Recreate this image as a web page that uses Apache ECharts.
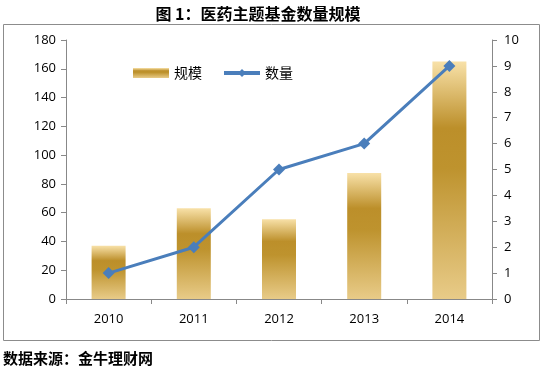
<!DOCTYPE html>
<html><head><meta charset="utf-8">
<script src="https://cdn.jsdelivr.net/npm/echarts@6/dist/echarts.min.js"></script>
<style>html,body{margin:0;padding:0;background:#fff}#c{width:543px;height:371px}</style>
</head><body><div id="c"></div>
<script>
const categories = ['2010','2011','2012','2013','2014'];
const scaleValues = [37, 63, 55.5, 87.5, 165];
const countValues = [1, 2, 5, 6, 9];
const leftTicks = [0,20,40,60,80,100,120,140,160,180];
const rightTicks = [0,1,2,3,4,5,6,7,8,9,10];

const chart = echarts.init(document.getElementById('c'), null, {renderer:'canvas'});
const gold = new echarts.graphic.LinearGradient(0,0,0,1,[
  {offset:0,color:'#F8E1A8'},
  {offset:0.28,color:'#BC8F2A'},
  {offset:0.45,color:'#BE932E'},
  {offset:1,color:'#E8CB88'}
]);
const axisFont = {color:'#000', fontSize:13, fontFamily:'Open Sans, sans-serif'};
chart.setOption({
  animation:false,
  title:{text:'图 1：医药主题基金数量规模', left:253, top:1, textAlign:'center',
    textStyle:{fontSize:16, fontWeight:'bold', color:'#000', fontFamily:'Noto Sans CJK SC'}},
  graphic:[
    {type:'rect', shape:{x:3.5,y:24.5,width:536,height:316}, style:{fill:'none', stroke:'#8c8c8c', lineWidth:1}, z:-1},
    {type:'text', left:3, top:351, style:{text:'数据来源：金牛理财网', fontSize:15, fontWeight:'bold', fill:'#000', fontFamily:'Noto Sans CJK SC'}}
  ],
  legend:{left:128, top:61, itemGap:20, itemWidth:36, itemHeight:10,
    textStyle:{fontSize:14, color:'#000', fontFamily:'Noto Sans CJK SC'},
    data:[{name:'规模', icon:'rect', itemStyle:{color:gold}},
          {name:'数量', lineStyle:{width:4, color:'#4A7EBB'}, itemStyle:{color:'#4A7EBB'}}]},
  grid:{left:66, right:51, top:40, bottom:72},
  xAxis:{type:'category', data:categories,
    axisLine:{lineStyle:{color:'#888'}}, axisTick:{show:true, length:5, lineStyle:{color:'#888'}},
    axisLabel:Object.assign({margin:14}, axisFont)},
  yAxis:[
    {type:'value', min:0, max:180, interval:20, position:'left',
     axisLine:{show:true, lineStyle:{color:'#888'}}, axisTick:{show:true, length:5, lineStyle:{color:'#888'}},
     splitLine:{show:false}, axisLabel:Object.assign({margin:10}, axisFont)},
    {type:'value', min:0, max:10, interval:1, position:'right',
     axisLine:{show:true, lineStyle:{color:'#888'}}, axisTick:{show:true, length:5, lineStyle:{color:'#888'}},
     splitLine:{show:false}, axisLabel:Object.assign({margin:12}, axisFont)}
  ],
  series:[
    {name:'规模', type:'bar', data:scaleValues, barWidth:34, itemStyle:{color:gold}},
    {name:'数量', type:'line', yAxisIndex:1, data:countValues, symbol:'diamond', symbolSize:12,
     lineStyle:{color:'#4A7EBB', width:3}, itemStyle:{color:'#4A7EBB'}}
  ]
});
</script></body></html>
